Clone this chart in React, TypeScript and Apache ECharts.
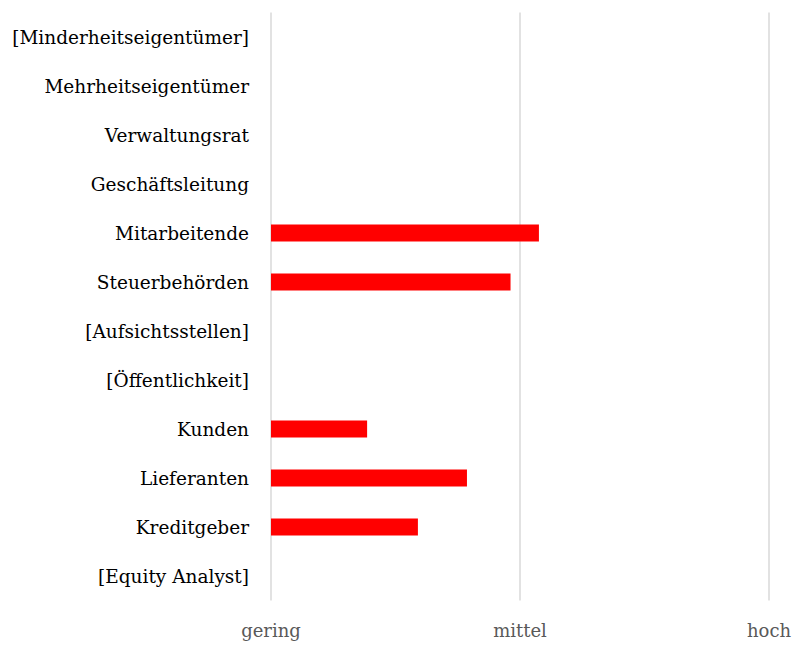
import React, { useEffect, useRef } from "react";
import * as echarts from "echarts";

const categories = [
  "[Minderheitseigentümer]",
  "Mehrheitseigentümer",
  "Verwaltungsrat",
  "Geschäftsleitung",
  "Mitarbeitende",
  "Steuerbehörden",
  "[Aufsichtsstellen]",
  "[Öffentlichkeit]",
  "Kunden",
  "Lieferanten",
  "Kreditgeber",
  "[Equity Analyst]",
];

const values: (number | null)[] = [
  null, null, null, null, 1.076, 0.962, null, null, 0.386, 0.787, 0.59, null,
];

const tickLabels = ["gering", "mittel", "hoch"];

const FONT = "DejaVu Serif";

export default function App() {
  const ref = useRef<HTMLDivElement>(null);
  useEffect(() => {
    if (!ref.current) return;
    const chart = echarts.init(ref.current, null, { renderer: "svg" });
    chart.setOption({
      animation: false,
      backgroundColor: "#ffffff",
      grid: { left: 271, right: 26, top: 12.5, bottom: 45.5, containLabel: false },
      xAxis: {
        type: "value",
        min: 0,
        max: 2,
        interval: 1,
        axisLine: { show: false },
        axisTick: { show: false },
        splitLine: { show: true, lineStyle: { color: "#d9d9d9", width: 1.5 } },
        axisLabel: {
          formatter: (v: number) => tickLabels[Math.round(v)] ?? "",
          color: "#595959",
          fontFamily: FONT,
          fontSize: 18,
          margin: 21,
        },
      },
      yAxis: {
        type: "category",
        data: categories,
        inverse: true,
        axisLine: { show: false },
        axisTick: { show: false },
        splitLine: { show: false },
        axisLabel: {
          color: "#000000",
          fontFamily: FONT,
          fontSize: 18.5,
          margin: 22,
        },
      },
      series: [
        {
          type: "bar",
          data: values,
          barWidth: 17,
          itemStyle: { color: "#ff0000" },
        },
      ],
    });
    return () => chart.dispose();
  }, []);
  return (
    <div
      ref={ref}
      style={{ position: "fixed", left: 0, top: 0, width: 795, height: 646 }}
    />
  );
}
